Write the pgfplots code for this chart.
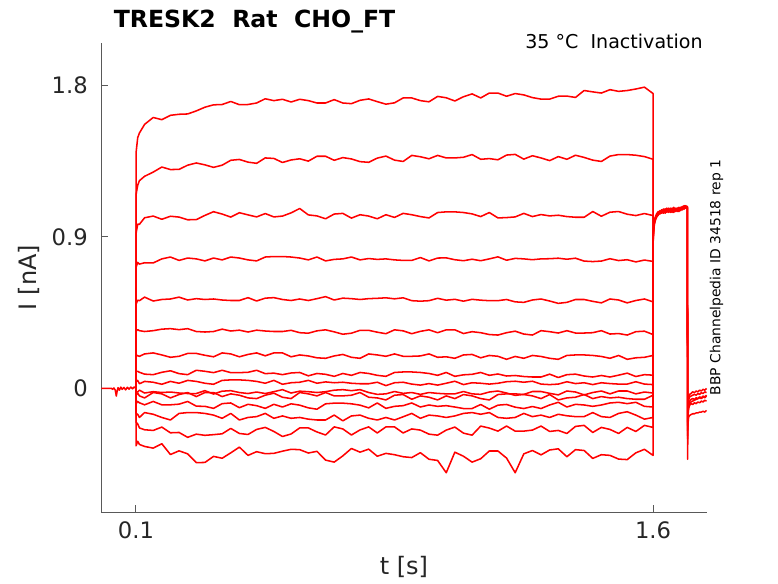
\documentclass[border=0pt]{standalone}
\usepackage{pgfplots}
\pgfplotsset{compat=1.18}
\usepackage{pgfplotstable}
\usepackage{fontspec}
\setmainfont{DejaVu Sans}
\definecolor{axgray}{RGB}{38,38,38}

\pgfplotstableread{
t A B C D E F G H I J K L M N O
0.1 0 0 0 0 0 0 0 0 0 0 0 0 0 0 0
0.1003 1.40 1.15 0.92 0.72 0.50 0.34 0.20 0.10 0.04 -0.02 -0.04 -0.09 -0.15 -0.20 -0.34
0.105 1.488 1.206 0.975 0.748 0.524 0.349 0.194 0.102 0.048 -0.021 -0.028 -0.077 -0.153 -0.210 -0.313
0.11 1.516 1.233 0.974 0.738 0.521 0.343 0.191 0.096 0.028 -0.010 -0.044 -0.085 -0.172 -0.234 -0.332
0.125 1.567 1.259 1.013 0.746 0.542 0.338 0.205 0.085 0.042 -0.027 -0.056 -0.097 -0.143 -0.245 -0.344
0.15 1.608 1.284 1.023 0.745 0.519 0.343 0.211 0.082 0.037 -0.019 -0.024 -0.077 -0.153 -0.249 -0.354
0.175 1.595 1.314 1.004 0.769 0.528 0.352 0.199 0.096 0.025 -0.024 -0.032 -0.097 -0.172 -0.229 -0.328
0.2 1.621 1.299 1.022 0.780 0.531 0.355 0.185 0.105 0.042 -0.021 -0.056 -0.097 -0.187 -0.263 -0.392
0.225 1.627 1.300 1.017 0.760 0.542 0.349 0.191 0.088 0.031 -0.027 -0.036 -0.093 -0.148 -0.261 -0.370
0.25 1.629 1.325 1.001 0.774 0.525 0.355 0.208 0.082 0.048 -0.030 -0.024 -0.077 -0.143 -0.290 -0.388
0.275 1.647 1.338 1.002 0.769 0.533 0.338 0.208 0.108 0.042 -0.030 -0.048 -0.105 -0.143 -0.271 -0.440
0.3 1.669 1.327 1.027 0.757 0.528 0.335 0.197 0.102 0.031 -0.013 -0.024 -0.106 -0.148 -0.278 -0.439
0.325 1.683 1.312 1.049 0.774 0.531 0.338 0.188 0.094 0.025 -0.033 -0.024 -0.118 -0.158 -0.274 -0.403
0.35 1.685 1.325 1.035 0.763 0.525 0.352 0.211 0.108 0.048 -0.016 -0.048 -0.090 -0.177 -0.269 -0.414
0.375 1.703 1.354 1.017 0.780 0.522 0.341 0.205 0.094 0.051 -0.013 -0.032 -0.086 -0.148 -0.237 -0.382
0.4 1.684 1.359 1.043 0.774 0.522 0.346 0.188 0.094 0.051 -0.024 -0.040 -0.114 -0.187 -0.267 -0.348
0.425 1.685 1.343 1.030 0.763 0.539 0.335 0.202 0.096 0.048 -0.030 -0.056 -0.094 -0.172 -0.273 -0.397
0.45 1.694 1.336 1.018 0.757 0.519 0.346 0.211 0.108 0.042 -0.021 -0.060 -0.102 -0.167 -0.243 -0.375
0.475 1.719 1.368 1.038 0.780 0.536 0.341 0.194 0.088 0.031 -0.030 -0.040 -0.118 -0.148 -0.231 -0.387
0.5 1.708 1.365 1.018 0.783 0.539 0.338 0.211 0.091 0.048 -0.019 -0.028 -0.094 -0.177 -0.255 -0.385
0.525 1.716 1.341 1.023 0.783 0.528 0.338 0.211 0.082 0.025 -0.007 -0.052 -0.110 -0.163 -0.285 -0.372
0.55 1.700 1.356 1.042 0.780 0.522 0.345 0.188 0.092 0.034 -0.027 -0.060 -0.091 -0.177 -0.270 -0.361
0.575 1.716 1.363 1.068 0.774 0.531 0.331 0.199 0.095 0.037 -0.016 -0.024 -0.099 -0.172 -0.234 -0.363
0.6 1.708 1.349 1.030 0.763 0.522 0.328 0.193 0.075 0.048 -0.019 -0.032 -0.115 -0.182 -0.234 -0.383
0.625 1.694 1.378 1.024 0.780 0.533 0.342 0.182 0.089 0.031 -0.024 -0.044 -0.123 -0.187 -0.258 -0.373
0.65 1.694 1.378 1.007 0.757 0.545 0.348 0.179 0.084 0.039 -0.019 -0.024 -0.091 -0.187 -0.276 -0.425
0.675 1.714 1.354 1.035 0.766 0.525 0.336 0.193 0.072 0.034 -0.010 -0.044 -0.087 -0.158 -0.228 -0.437
0.7 1.694 1.370 1.039 0.769 0.536 0.322 0.202 0.089 0.037 -0.007 -0.044 -0.087 -0.192 -0.240 -0.400
0.725 1.690 1.362 1.011 0.780 0.533 0.328 0.185 0.078 0.031 -0.013 -0.040 -0.091 -0.163 -0.276 -0.356
0.75 1.710 1.346 1.031 0.763 0.528 0.345 0.179 0.095 0.028 -0.007 -0.024 -0.099 -0.158 -0.246 -0.378
0.775 1.718 1.342 1.023 0.771 0.533 0.345 0.205 0.089 0.028 -0.024 -0.052 -0.115 -0.177 -0.228 -0.360
0.8 1.702 1.367 1.007 0.766 0.535 0.334 0.199 0.078 0.037 -0.035 -0.056 -0.086 -0.187 -0.264 -0.402
0.825 1.687 1.379 1.031 0.769 0.538 0.325 0.191 0.072 0.017 -0.032 -0.068 -0.118 -0.172 -0.228 -0.385
0.85 1.695 1.355 1.015 0.763 0.532 0.348 0.205 0.095 0.034 -0.018 -0.040 -0.106 -0.187 -0.228 -0.393
0.875 1.724 1.347 1.039 0.760 0.538 0.342 0.191 0.098 0.037 -0.029 -0.036 -0.102 -0.168 -0.264 -0.405
0.9 1.724 1.383 1.031 0.760 0.521 0.325 0.191 0.098 0.026 -0.024 -0.064 -0.086 -0.148 -0.240 -0.410
0.925 1.708 1.375 1.020 0.777 0.518 0.339 0.193 0.095 0.020 -0.035 -0.044 -0.110 -0.177 -0.247 -0.381
0.95 1.701 1.363 1.012 0.757 0.521 0.348 0.205 0.089 0.029 -0.024 -0.052 -0.098 -0.158 -0.271 -0.420
0.975 1.733 1.383 1.044 0.774 0.535 0.331 0.185 0.078 0.020 -0.029 -0.068 -0.106 -0.163 -0.277 -0.427
1.0 1.725 1.368 1.048 0.775 0.524 0.348 0.188 0.095 0.031 -0.032 -0.044 -0.102 -0.172 -0.247 -0.500
1.025 1.706 1.368 1.048 0.764 0.529 0.348 0.179 0.072 0.043 -0.032 -0.060 -0.110 -0.163 -0.229 -0.378
1.05 1.731 1.372 1.044 0.758 0.518 0.326 0.199 0.081 0.023 -0.018 -0.036 -0.119 -0.148 -0.265 -0.402
1.075 1.748 1.388 1.036 0.767 0.529 0.337 0.202 0.084 0.034 -0.032 -0.044 -0.119 -0.143 -0.277 -0.437
1.1 1.724 1.360 1.020 0.758 0.524 0.331 0.182 0.095 0.031 -0.035 -0.060 -0.095 -0.153 -0.223 -0.417
1.125 1.753 1.364 1.044 0.769 0.521 0.320 0.196 0.078 0.026 -0.021 -0.068 -0.123 -0.143 -0.235 -0.371
1.15 1.753 1.357 1.012 0.781 0.521 0.317 0.191 0.086 0.031 -0.015 -0.036 -0.099 -0.172 -0.253 -0.371
1.175 1.734 1.385 1.014 0.761 0.528 0.331 0.173 0.074 0.040 -0.027 -0.032 -0.095 -0.177 -0.223 -0.413
1.2 1.750 1.389 1.018 0.772 0.514 0.340 0.190 0.077 0.043 -0.041 -0.032 -0.111 -0.172 -0.253 -0.500
1.225 1.742 1.361 1.039 0.769 0.511 0.323 0.179 0.071 0.037 -0.035 -0.036 -0.119 -0.148 -0.253 -0.388
1.25 1.726 1.381 1.020 0.764 0.525 0.317 0.196 0.068 0.043 -0.018 -0.044 -0.107 -0.167 -0.247 -0.368
1.275 1.717 1.368 1.032 0.769 0.531 0.343 0.190 0.068 0.026 -0.018 -0.060 -0.119 -0.158 -0.223 -0.394
1.3 1.717 1.352 1.024 0.770 0.519 0.337 0.179 0.085 0.023 -0.029 -0.036 -0.098 -0.172 -0.255 -0.365
1.325 1.734 1.376 1.028 0.773 0.505 0.329 0.173 0.065 0.026 -0.038 -0.068 -0.082 -0.153 -0.249 -0.358
1.35 1.735 1.360 1.020 0.767 0.511 0.343 0.196 0.082 0.040 -0.015 -0.056 -0.110 -0.162 -0.267 -0.405
1.375 1.727 1.384 1.016 0.773 0.528 0.329 0.199 0.085 0.029 -0.021 -0.052 -0.094 -0.167 -0.225 -0.363
1.4 1.768 1.371 1.016 0.756 0.528 0.329 0.199 0.074 0.034 -0.038 -0.036 -0.098 -0.167 -0.219 -0.368
1.425 1.760 1.355 1.050 0.753 0.517 0.331 0.196 0.068 0.023 -0.024 -0.060 -0.106 -0.143 -0.261 -0.415
1.45 1.753 1.347 1.022 0.756 0.508 0.343 0.190 0.077 0.034 -0.015 -0.048 -0.098 -0.167 -0.231 -0.393
1.475 1.773 1.379 1.046 0.770 0.531 0.323 0.179 0.068 0.029 -0.032 -0.056 -0.086 -0.172 -0.243 -0.397
1.5 1.763 1.388 1.050 0.759 0.525 0.326 0.196 0.079 0.026 -0.015 -0.052 -0.082 -0.148 -0.267 -0.419
1.525 1.768 1.388 1.034 0.764 0.508 0.317 0.173 0.091 0.026 -0.015 -0.060 -0.090 -0.138 -0.231 -0.422
1.55 1.777 1.384 1.026 0.751 0.522 0.337 0.182 0.071 0.040 -0.032 -0.064 -0.082 -0.158 -0.255 -0.382
1.575 1.788 1.376 1.038 0.762 0.531 0.340 0.185 0.082 0.026 -0.021 -0.064 -0.106 -0.182 -0.219 -0.361
1.6 1.750 1.360 1.026 0.754 0.514 0.320 0.196 0.079 0.023 -0.027 -0.040 -0.110 -0.172 -0.231 -0.397
1.6003 0.9 0.9 0.9 0.9 0.9 0.9 0.9 0.9 0.9 0.9 0.9 0.9 0.9 0.9 0.9
}\pre

\pgfplotstableread{
t P Q R S U V
1.6003 0.90 0.88 0.92 0.89 0.91 0.87
1.602 0.96 0.95 0.97 0.96 0.965 0.94
1.604 0.99 0.985 1.00 0.99 0.995 0.975
1.607 1.01 1.005 1.02 1.01 1.015 1.00
1.61 1.025 1.02 1.035 1.025 1.03 1.015
1.615 1.04 1.03 1.05 1.035 1.045 1.03
1.62 1.045 1.05 1.04 1.055 1.035 1.045
1.625 1.06 1.04 1.055 1.045 1.06 1.05
1.63 1.05 1.065 1.045 1.06 1.05 1.04
1.635 1.055 1.045 1.065 1.04 1.065 1.055
1.64 1.07 1.05 1.05 1.06 1.045 1.06
1.645 1.05 1.065 1.06 1.05 1.07 1.045
1.65 1.06 1.055 1.045 1.07 1.055 1.065
1.655 1.045 1.07 1.065 1.055 1.06 1.05
1.66 1.065 1.05 1.055 1.045 1.075 1.06
1.665 1.055 1.065 1.07 1.065 1.05 1.055
1.67 1.07 1.055 1.05 1.06 1.065 1.07
1.675 1.06 1.075 1.065 1.05 1.07 1.06
1.68 1.075 1.06 1.07 1.07 1.055 1.065
1.685 1.065 1.07 1.06 1.08 1.075 1.07
1.69 1.08 1.065 1.075 1.065 1.07 1.085
1.695 1.07 1.085 1.07 1.075 1.08 1.07
1.6995 1.075 1.07 1.08 1.07 1.075 1.08
1.7002 -0.42 -0.30 -0.25 -0.22 -0.28 -0.20
1.701 -0.22 -0.17 -0.14 -0.12 -0.16 -0.10
1.703 -0.17 -0.12 -0.09 -0.07 -0.11 -0.05
1.706 -0.16 -0.10 -0.075 -0.05 -0.09 -0.035
1.71 -0.155 -0.09 -0.065 -0.045 -0.08 -0.03
1.715 -0.15 -0.095 -0.06 -0.04 -0.075 -0.02
1.72 -0.15 -0.085 -0.065 -0.035 -0.07 -0.025
1.725 -0.145 -0.09 -0.055 -0.04 -0.065 -0.015
1.73 -0.145 -0.08 -0.06 -0.03 -0.06 -0.02
1.735 -0.14 -0.085 -0.05 -0.035 -0.055 -0.01
1.74 -0.14 -0.075 -0.055 -0.025 -0.06 -0.015
1.745 -0.135 -0.08 -0.045 -0.03 -0.05 -0.005
1.75 -0.14 -0.07 -0.05 -0.02 -0.055 -0.01
1.755 -0.13 -0.075 -0.04 -0.025 -0.045 0.0
}\post

\begin{document}
\begin{tikzpicture}
\path[use as bounding box] (-76.125pt,-53.25pt) rectangle (507.375pt,384pt);
\begin{axis}[
  at={(0pt,0pt)}, anchor=south west,
  scale only axis, width=453.75pt, height=351.75pt,
  xmin=0, xmax=1.755, ymin=-0.733, ymax=2.05,
  clip=false,
  axis x line*=bottom, axis y line*=left,
  axis line style={-, draw=black!65, line width=0.75pt},
  xtick={0.1,1.6}, ytick={0,0.9,1.8},
  tick align=inside, major tick length=5.25pt,
  tick style={black!65, line width=0.75pt},
  /pgf/number format/assume math mode=true,
  ticklabel style={font=\fontsize{17}{20}\selectfont, text=axgray},
  yticklabel style={xshift=-6.75pt},
  xticklabel style={yshift=-4pt},
  xlabel={t [s]}, ylabel={I [nA]},
  label style={font=\fontsize{18}{21}\selectfont, text=axgray},
  xlabel style={at={(axis description cs:0.5,-0.117)}, anchor=center},
  ylabel style={at={(axis description cs:-0.1198,0.5)}, anchor=center},
  tr/.style={red, line width=1.15pt, line join=round},
]
\addplot[tr] coordinates {(0,0.0) (0.03,0.0) (0.032,-0.005) (0.036,0.003) (0.04,-0.01) (0.043,-0.045) (0.045,-0.02) (0.048,0.005) (0.052,-0.01) (0.056,0.008) (0.06,-0.005) (0.065,0.006) (0.07,-0.008) (0.075,0.007) (0.08,-0.004) (0.085,0.008) (0.09,-0.002) (0.095,0.009) (0.1,0.0)};
\foreach \c in {A,B,C,D,E,F,G,H,I,J,K,L,M,N,O}{
  \addplot[tr] table[x=t,y=\c]{\pre};
}
\foreach \c in {P,Q,R,S,U,V}{
  \addplot[tr] table[x=t,y=\c]{\post};
}
\node[anchor=base west, inner sep=0pt, font=\fontsize{17.7}{21}\selectfont\bfseries] at (axis description cs:0.0199,1.034) {TRESK2~~Rat~~CHO\_FT};
\node[anchor=base east, inner sep=0pt, font=\fontsize{14.3}{16}\selectfont] at (axis description cs:0.9942,0.9893) {35~°C~~Inactivation};
\node[rotate=90, anchor=center, inner sep=0pt, font=\fontsize{10.4}{12}\selectfont] at (axis description cs:1.0165,0.5) {BBP Channelpedia ID 34518 rep 1};
\end{axis}
\end{tikzpicture}
\end{document}
